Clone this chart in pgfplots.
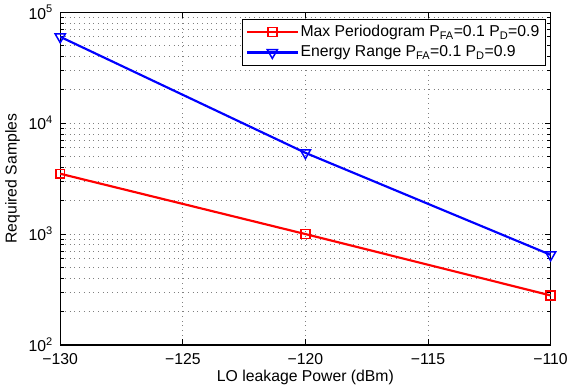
\documentclass[border=0pt]{standalone}
\usepackage{fontspec}
\setmainfont{Liberation Sans}
\usepackage{pgfplots}
\pgfplotsset{compat=1.18}
\pgfplotstableread{
x y
-130 3500
-120 1000
-110 280
}\maxper
\pgfplotstableread{
x y
-130 60000
-120 5400
-110 650
}\energy
\begin{document}
\fontsize{16}{18}\selectfont
\begin{tikzpicture}
\begin{axis}[
  scale only axis, width=498pt, height=338pt,
  xmin=-130, xmax=-110, ymode=log, ymin=100, ymax=100000,
  xtick={-130,-125,-120,-115,-110},
  xticklabels={−130,−125,−120,−115,−110},
  ytick={100,1000,10000,100000},
  yticklabels={10\textsuperscript{2},10\textsuperscript{3},10\textsuperscript{4},10\textsuperscript{5}},
  grid=both,
  major grid style={dash pattern=on 0.8pt off 4pt, black!50, line width=0.8pt},
  minor grid style={dash pattern=on 0.8pt off 4pt, black!50, line width=0.8pt},
  tick align=inside,
  major tick length=6pt, minor tick length=3.5pt,
  tick style={black, line width=0.7pt},
  axis line style={line width=1.1pt},
  tick label style={font=\fontsize{16}{18}\selectfont},
  xticklabel style={yshift=-3pt},
  yticklabel style={xshift=-2pt},
  label style={font=\fontsize{16}{18}\selectfont},
  xlabel={LO leakage Power (dBm)}, ylabel={Required Samples},
  xlabel style={yshift=5pt},
  ylabel style={yshift=-2pt},
  legend style={at={(rel axis cs:0.99,0.98)}, anchor=north east, draw=black,
    line width=0.9pt, font=\fontsize{16}{18}\selectfont, cells={anchor=west},
    inner sep=4pt, row sep=3pt},
  legend image code/.code={\draw[mark repeat=2,mark phase=2] plot coordinates {(0cm,0cm) (0.9cm,0cm) (1.8cm,0cm)};},
]
\addplot[red, line width=2.2pt, mark=square, mark size=4.5pt, mark options={line width=1.5pt, solid}] table {\maxper};
\addlegendentry{Max Periodogram P\textsubscript{FA}=0.1 P\textsubscript{D}=0.9}
\addplot[blue, line width=2.2pt, mark=triangle, mark size=6pt, mark options={rotate=180, line width=1.5pt, solid}] table {\energy};
\addlegendentry{Energy Range P\textsubscript{FA}=0.1 P\textsubscript{D}=0.9}
\end{axis}
\end{tikzpicture}
\end{document}
